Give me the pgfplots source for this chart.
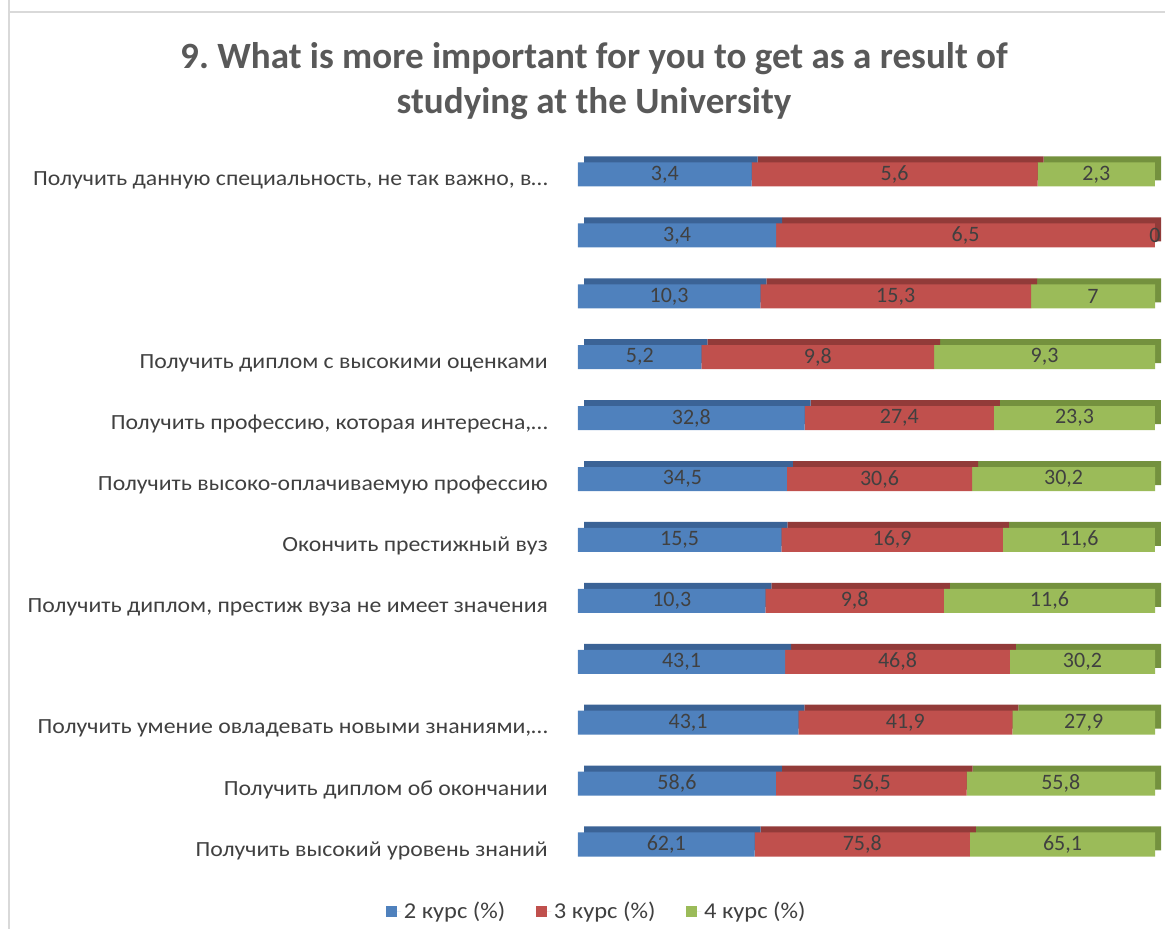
\documentclass[border=0pt]{standalone}
\usepackage{pgfplots}
\usepackage{pgfplotstable}
\pgfplotsset{compat=1.18}
\usepackage{fontspec}
\setmainfont{Carlito}
\newfontfamily\lbl[FakeStretch=1.1]{Carlito}
\newfontfamily\lgd[FakeStretch=1.08]{Carlito}
\definecolor{cblue}{HTML}{4F81BD}
\definecolor{cred}{HTML}{C0504D}
\definecolor{cgreen}{HTML}{9BBB59}
\definecolor{dblue}{HTML}{3B6396}
\definecolor{dred}{HTML}{923B39}
\definecolor{dgreen}{HTML}{74913E}
\definecolor{txt}{HTML}{404040}
\definecolor{ttl}{HTML}{595959}
\definecolor{frame}{HTML}{D9D9D9}

\pgfplotstableread{
y a b c
0 3.4 5.6 2.3
1 3.4 6.5 0
2 10.3 15.3 7
3 5.2 9.8 9.3
4 32.8 27.4 23.3
5 34.5 30.6 30.2
6 15.5 16.9 11.6
7 10.3 9.8 11.6
8 43.1 46.8 30.2
9 43.1 41.9 27.9
10 58.6 56.5 55.8
11 62.1 75.8 65.1
}\data

\pgfplotsset{
  base/.style={
    scale only axis, width=432.75pt, height=548.2pt,
    xmin=0, xmax=100, ymin=-0.5, ymax=11.5, y dir=reverse,
    anchor=south west, clip=false,
  },
}
\newcommand{\tot}{(\thisrow{a}+\thisrow{b}+\thisrow{c})}

\begin{document}
\frenchspacing
\begin{tikzpicture}
\useasboundingbox (0,0) rectangle (873.75pt,696.75pt);
\draw[frame, line width=1.5pt] (6.75pt,696.75pt) -- (6.75pt,687.75pt) -- (873.75pt,687.75pt);
\draw[frame, line width=1.5pt] (6.75pt,687.75pt) -- (6.75pt,0pt);

\node[font=\fontsize{27.8}{34}\selectfont\bfseries, text=ttl, align=center] at (445.5pt,636pt)
  {9. What is more important for you to get as a result of\\studying at the University};

% back (3D depth) layer
\begin{axis}[base, at={(438pt,45.04pt)}, hide axis, xbar stacked, bar width=18pt]
\addplot[fill=dblue, draw=none] table[x expr=\thisrow{a}/\tot*100, y=y] {\data};
\addplot[fill=dred, draw=none] table[x expr=\thisrow{b}/\tot*100, y=y] {\data};
\addplot[fill=dgreen, draw=none] table[x expr=\thisrow{c}/\tot*100, y=y] {\data};
\end{axis}

% front layer
\begin{axis}[base, at={(433.5pt,40.54pt)}, xbar stacked, bar width=18pt,
  axis line style={draw=none}, tick style={draw=none},
  xtick=\empty, ytick={0,1,2,3,4,5,6,7,8,9,10,11},
  yticklabels={
    {Получить данную специальность, не так важно, в…},
    {},{},
    {Получить диплом с высокими оценками\hspace{3pt}},
    {Получить профессию, которая интересна,…},
    {Получить высоко-оплачиваемую профессию},
    {Окончить престижный вуз\hspace{4pt}},
    {Получить диплом, престиж вуза не имеет значения\hspace{4pt}},
    {},
    {Получить умение овладевать новыми знаниями,…},
    {Получить диплом об окончании\hspace{4pt}},
    {Получить высокий уровень знаний}},
  yticklabel style={font=\lbl\fontsize{16.2}{18}\selectfont, text=txt, inner sep=0pt, anchor=east, xshift=-22.5pt, yshift=-4.5pt},
  legend style={at={(axis description cs:0.033,-0.05)}, anchor=center, draw=none, fill=none,
    legend columns=3, font=\lgd\fontsize{17}{19}\selectfont, text=txt,
    /tikz/every even column/.append style={column sep=21pt}},
  legend image code/.code={\fill[#1] (0pt,-4pt) rectangle (8pt,4pt); \path (0pt,0pt) -- (11.5pt,0pt);},
]
\addplot[fill=cblue, draw=none] table[x expr=\thisrow{a}/\tot*100, y=y] {\data};
\addplot[fill=cred, draw=none] table[x expr=\thisrow{b}/\tot*100, y=y] {\data};
\addplot[fill=cgreen, draw=none] table[x expr=\thisrow{c}/\tot*100, y=y] {\data};
\legend{2 курс (\%), 3 курс (\%), 4 курс (\%)}
\end{axis}

% value labels
\begin{axis}[base, at={(433.5pt,40.54pt)}, hide axis,
  point meta=explicit,
  nodes near coords,
  nodes near coords align=center,
  every node near coord/.append style={font=\fontsize{16.5}{18}\selectfont, text=txt, anchor=center},
  /pgf/number format/.cd, fixed, precision=1, use comma, assume math mode=true,
]
\addplot[only marks, mark=none] table[x expr=0.5*\thisrow{a}/\tot*100, y=y, meta=a] {\data};
\addplot[only marks, mark=none] table[x expr=(\thisrow{a}+0.5*\thisrow{b})/\tot*100, y=y, meta=b] {\data};
\addplot[only marks, mark=none] table[x expr=(\thisrow{a}+\thisrow{b}+0.5*\thisrow{c})/\tot*100, y=y, meta=c] {\data};
\end{axis}
\end{tikzpicture}
\end{document}
